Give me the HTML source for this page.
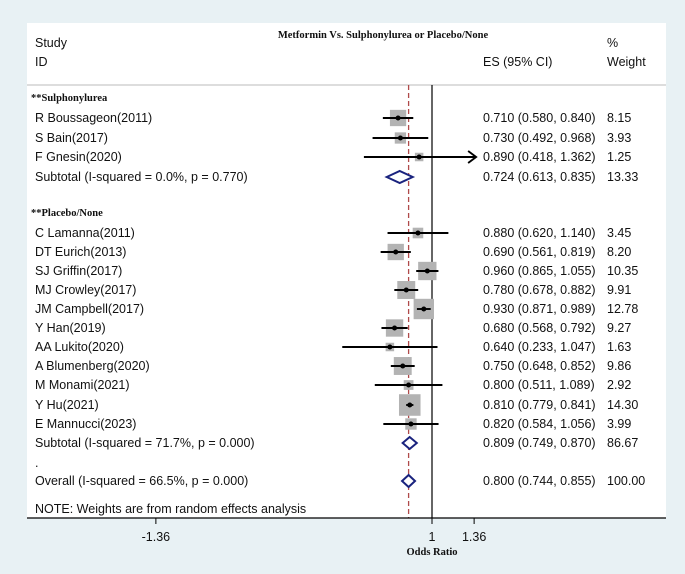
<!DOCTYPE html>
<html><head><meta charset="utf-8"><style>
html,body{margin:0;padding:0;background:#e8f1f4;}
svg{display:block;}
text{font-family:"Liberation Sans",sans-serif;font-size:12.5px;fill:#111;}
.b{font-family:"Liberation Serif",serif;font-weight:bold;font-size:10.5px;}
</style></head><body>
<svg id="c" width="685" height="574"></svg>
<script>
const studies=["R Boussageon(2011)","S Bain(2017)","F Gnesin(2020)","C Lamanna(2011)","DT Eurich(2013)","SJ Griffin(2017)","MJ Crowley(2017)","JM Campbell(2017)","Y Han(2019)","AA Lukito(2020)","A Blumenberg(2020)","M Monami(2021)","Y Hu(2021)","E Mannucci(2023)"];
const groups=[0,0,0,1,1,1,1,1,1,1,1,1,1,1];
const es=[0.710,0.730,0.890,0.880,0.690,0.960,0.780,0.930,0.680,0.640,0.750,0.800,0.810,0.820];
const lo=[0.580,0.492,0.418,0.620,0.561,0.865,0.678,0.871,0.568,0.233,0.648,0.511,0.779,0.584];
const hi=[0.840,0.968,1.362,1.140,0.819,1.055,0.882,0.989,0.792,1.047,0.852,1.089,0.841,1.056];
const wt=[8.15,3.93,1.25,3.45,8.20,10.35,9.91,12.78,9.27,1.63,9.86,2.92,14.30,3.99];
const subLabels=["Subtotal  (I-squared = 0.0%, p = 0.770)","Subtotal  (I-squared = 71.7%, p = 0.000)"];
const subES=[0.724,0.809];const subLo=[0.613,0.749];const subHi=[0.835,0.870];const subWt=["13.33","86.67"];
const overall=[0.800,0.744,0.855];
const ticks=[-1.36,1,1.36];const tickLabels=["-1.36","1","1.36"];
const clipMax=1.36;
const X=v=>432+(v-1)*117;
const f3=v=>v.toFixed(3);
const s=document.getElementById('c');const NS="http://www.w3.org/2000/svg";
function el(t,a,txt){const e=document.createElementNS(NS,t);for(const k in a)e.setAttribute(k,a[k]);if(txt!=null)e.textContent=txt;s.appendChild(e);return e;}
let e;
e=el('rect',{x:27,y:23,width:639,height:495,fill:'#fff'});

e=el('text',{x:383,y:38,'text-anchor':'middle',class:'b'},'Metformin Vs. Sulphonylurea or Placebo/None');

[['Study',35,47],['ID',35,66],['ES (95% CI)',483,66],['%',607,47],['Weight',607,66]].forEach(h=>{
 e=el('text',{x:h[1],y:h[2]},h[0]);
 });
e=el('line',{x1:27,x2:666,y1:85,y2:85,stroke:'#bbb'});

e=el('line',{x1:X(overall[0]),x2:X(overall[0]),y1:85,y2:518,stroke:'#b04a4a','stroke-width':1.3,'stroke-dasharray':'5,3'});

e=el('line',{x1:X(1),x2:X(1),y1:85,y2:518,stroke:'#000','stroke-width':1.2});

const rowY=[118,138,157,233,252,271,290,309,328,347,366,385,405,424];
const headY=[97,212],subY=[177,443];
['**Sulphonylurea','**Placebo/None'].forEach((g,i)=>{e=el('text',{x:31,y:headY[i]+4,class:'b'},g);
 });
function diamond(v,l,h,y,name){e=el('polygon',{points:`${X(l)},${y} ${X(v)},${y-6} ${X(h)},${y} ${X(v)},${y+6}`,fill:'#fff',stroke:'#1a237e','stroke-width':2});
 }
studies.forEach((n,i)=>{const y=rowY[i];
 e=el('text',{x:35,y:y+4},n);
 const sd=Math.max(8.5,5.7*Math.sqrt(wt[i]));
 e=el('rect',{x:X(es[i])-sd/2,y:y-sd/2,width:sd,height:sd,fill:'#b3b3b3'});
 
 const clipped=hi[i]>clipMax;
 const xe=clipped?X(clipMax)+2:X(hi[i]);
 e=el('line',{x1:X(lo[i]),x2:xe,y1:y,y2:y,stroke:'#000','stroke-width':1.9});
 
 if(clipped){e=el('polyline',{points:`${xe-8},${y-6} ${xe},${y} ${xe-8},${y+6}`,fill:'none',stroke:'#000','stroke-width':1.9});
  }
 e=el('circle',{cx:X(es[i]),cy:y,r:2.5,fill:'#000'});
 
 e=el('text',{x:483,y:y+4},`${f3(es[i])} (${f3(lo[i])}, ${f3(hi[i])})`);
 
 e=el('text',{x:607,y:y+4},wt[i].toFixed(2));
 
});
subLabels.forEach((l,i)=>{const y=subY[i];
 e=el('text',{x:35,y:y+4},l);
 diamond(subES[i],subLo[i],subHi[i],y,'subtotal-diamond');
 e=el('text',{x:483,y:y+4},`${f3(subES[i])} (${f3(subLo[i])}, ${f3(subHi[i])})`);
 e=el('text',{x:607,y:y+4},subWt[i]);});
e=el('text',{x:35,y:467},'.');
e=el('text',{x:35,y:485},'Overall  (I-squared = 66.5%, p = 0.000)');
diamond(overall[0],overall[1],overall[2],481,'overall-diamond');
e=el('text',{x:483,y:485},`${f3(overall[0])} (${f3(overall[1])}, ${f3(overall[2])})`);
e=el('text',{x:607,y:485},'100.00');
e=el('text',{x:35,y:513},'NOTE: Weights are from random effects analysis');
e=el('line',{x1:27,x2:666,y1:518,y2:518,stroke:'#000','stroke-width':1.2});
ticks.forEach((t,i)=>{e=el('line',{x1:X(t),x2:X(t),y1:518,y2:524,stroke:'#000'});
 e=el('text',{x:X(t),y:541,'text-anchor':'middle'},tickLabels[i]);});
e=el('text',{x:X(1),y:555,'text-anchor':'middle',class:'b'},'Odds Ratio');
</script></body></html>
